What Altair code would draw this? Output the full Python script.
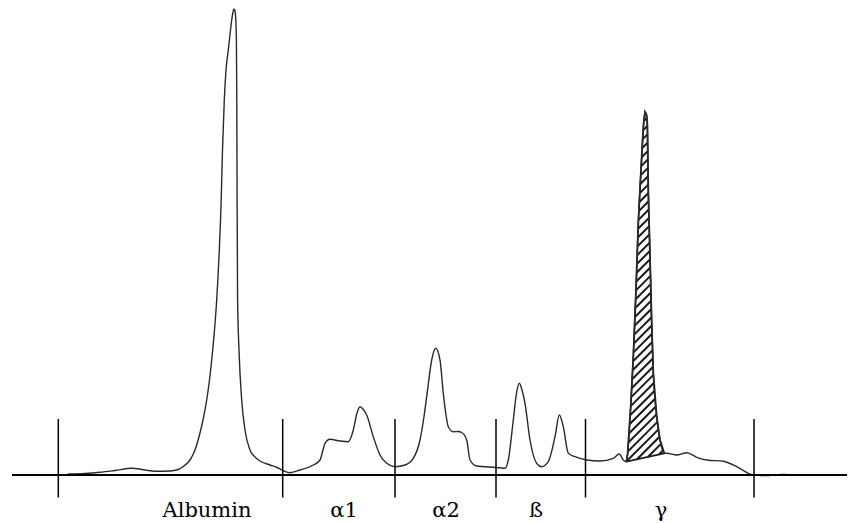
import altair as alt
import pandas as pd

# ---- data (mobility position, density above baseline) ----
trace_x = [68, 85, 100, 115, 131.7, 145, 155, 170, 178, 184, 190, 195, 200, 203, 206.7, 209.5,
           212.7, 216.7, 219.3, 221.2, 222.5, 224.3, 226, 228.3, 230.5, 231.7, 233, 234, 235,
           235.8, 236.4, 236.8, 237.1, 237.6, 239, 241.7, 245, 250, 255, 260, 270, 277, 283,
           290, 300, 313.3, 320, 323, 325, 330, 340, 348.3, 353.3, 357, 360, 363, 366.7, 373.3,
           380, 386.7, 395, 405, 413.3, 420, 423.5, 426.7, 431.7, 435.7, 440, 443.3, 446, 448.3,
           453.3, 458, 461.7, 466.7, 470, 476.7, 493.3, 500, 505, 508.3, 513.3, 516.5, 519.3,
           522, 525, 530, 536.7, 541.7, 548.3, 555, 559.3, 563.3, 568.3, 575, 586.7, 600, 613.3,
           619.3, 623.3, 626.3, 627.5, 630.7, 633.3, 636, 638.3, 641.7, 643.5, 645, 646.5, 647.3,
           648.3, 650, 651.7, 653.3, 656.7, 660, 664.3, 666.7, 676.7, 686.7, 696.7, 706.7, 723.3,
           736.7, 748.3, 753.3]
trace_y = [1, 1.5, 2.7, 4.5, 6.7, 5, 3.7, 4, 5.5, 9, 15, 25, 42, 55, 75, 95,
           125, 175, 225, 275, 325, 375, 405, 425, 445, 455, 463, 466, 464,
           455, 435, 375, 275, 175, 125, 75, 45, 25, 18, 14, 10, 7.5, 4.5,
           2.3, 5, 10, 15, 25, 31.7, 35.7, 34, 33.3, 45, 62, 68.3, 66, 60, 38.3,
           20, 11.7, 8.3, 10, 16.7, 35, 55, 78.3, 115, 126.7, 115, 81.7, 60, 48.3,
           43.3, 43.5, 42.5, 35, 15, 9, 7.7, 7.3, 6.7, 15, 55, 82, 91.7,
           85, 71.7, 35, 11.7, 8.3, 13.3, 38.3, 60, 48.3, 21.7, 18.3, 15, 14, 16.7,
           21, 15, 13.3, 20, 68.3, 118.3, 185, 252, 318.3, 350, 363, 360, 352,
           285, 218.3, 152, 102, 58.3, 35, 21.7, 21.7, 20, 22.3, 17.7, 15, 13.7,
           8.3, 1.7, 0]

# faint trailing marks after the last divider
tail_x = [760, 770, 780, 787]
tail_y = [-1.5, -1.5, 1, 1]
tail_seg = ["a", "a", "b", "b"]

# fraction dividers and labels
divider_x = [58.3, 282.7, 395, 496, 585.5, 754]
divider_low, divider_high = -22.5, 56
label_text = ["Albumin", "\u03b11", "\u03b12", "\u00df", "\u03b3"]
label_x = [207, 344, 446, 536, 661]
label_y = -42

# gamma (monoclonal) band: hatched region between these positions
gamma_lo, gamma_hi = 626.3, 664.3
hatch_step = 8.5

XDOM = [8, 847]
YDOM = [-48, 467]
xs = alt.Scale(domain=XDOM, nice=False, zero=False)
ys = alt.Scale(domain=YDOM, nice=False, zero=False)

trace_df = pd.DataFrame({"x": trace_x, "y": trace_y, "i": range(len(trace_x))})

# ---- hatch segments clipped to the gamma band polygon ----
poly = [(x, y) for x, y in zip(trace_x, trace_y) if gamma_lo <= x <= gamma_hi]
vals = [y - x for x, y in poly]
segs = []
b = min(vals) + hatch_step / 2
while b < max(vals):
    pts = []
    n = len(poly)
    for k in range(n):
        x1, y1 = poly[k]
        x2, y2 = poly[(k + 1) % n]
        f1 = y1 - x1 - b
        f2 = y2 - x2 - b
        if (f1 < 0) != (f2 < 0):
            t = f1 / (f1 - f2)
            pts.append((x1 + t * (x2 - x1), y1 + t * (y2 - y1)))
    pts.sort()
    for j in range(0, len(pts) - 1, 2):
        segs.append({"x": pts[j][0], "y": pts[j][1], "x2": pts[j + 1][0], "y2": pts[j + 1][1]})
    b += hatch_step
hatch_df = pd.DataFrame(segs)

outline = poly + [poly[0]]
outline_df = pd.DataFrame({"x": [p[0] for p in outline], "y": [p[1] for p in outline],
                           "i": range(len(outline))})

hatch = alt.Chart(hatch_df).mark_rule(color="#1a1a1a", strokeWidth=2).encode(
    x=alt.X("x:Q", scale=xs, axis=None), y=alt.Y("y:Q", scale=ys, axis=None),
    x2="x2:Q", y2="y2:Q")

gamma_outline = alt.Chart(outline_df).mark_line(color="#1a1a1a", strokeWidth=1.8).encode(
    x=alt.X("x:Q", scale=xs, axis=None), y=alt.Y("y:Q", scale=ys, axis=None), order="i:Q")

curve = alt.Chart(trace_df).mark_line(color="#2a2a2a", strokeWidth=1.4,
                                      interpolate="monotone").encode(
    x=alt.X("x:Q", scale=xs, axis=None), y=alt.Y("y:Q", scale=ys, axis=None), order="i:Q")

tail = alt.Chart(pd.DataFrame({"x": tail_x, "y": tail_y, "s": tail_seg})).mark_line(
    color="#c8c8c8", strokeWidth=1.5).encode(
    x=alt.X("x:Q", scale=xs, axis=None), y=alt.Y("y:Q", scale=ys, axis=None), detail="s:N")

baseline = alt.Chart(pd.DataFrame({"x": [12], "x2": [XDOM[1]], "y": [0]})).mark_rule(
    color="black", strokeWidth=2).encode(
    x=alt.X("x:Q", scale=xs, axis=None), x2="x2:Q", y=alt.Y("y:Q", scale=ys, axis=None))

dividers = alt.Chart(pd.DataFrame({"x": divider_x, "y": [divider_low] * len(divider_x),
                                   "y2": [divider_high] * len(divider_x)})).mark_rule(
    color="black", strokeWidth=1.5).encode(
    x=alt.X("x:Q", scale=xs, axis=None), y=alt.Y("y:Q", scale=ys, axis=None), y2="y2:Q")

labels = alt.Chart(pd.DataFrame({"x": label_x, "t": label_text,
                                 "y": [label_y] * len(label_x)})).mark_text(
    font="DejaVu Serif", fontSize=21, color="black", align="center",
    baseline="alphabetic").encode(
    x=alt.X("x:Q", scale=xs, axis=None), y=alt.Y("y:Q", scale=ys, axis=None), text="t:N")

chart = alt.layer(hatch, gamma_outline, curve, tail, baseline, dividers, labels).properties(
    width=839, height=515, padding=0, autosize="none", background="white"
).configure_view(stroke=None)

chart.save("out.html", embed_options={"renderer": "svg", "actions": False})
